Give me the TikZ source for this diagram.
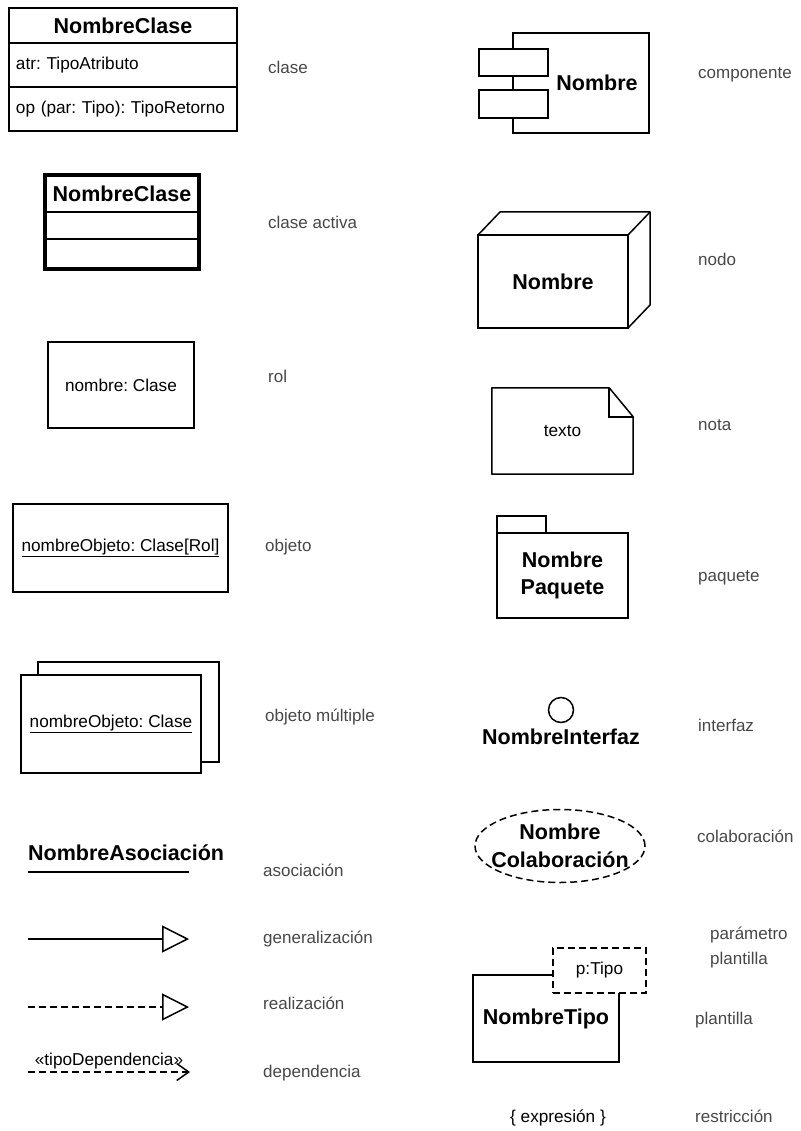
\documentclass[tikz,border=0pt]{standalone}
\usepackage{fontspec}
\setmainfont{Liberation Sans}
\usepackage{xcolor}
\usepackage{tikz}
\usetikzlibrary{positioning}
\usetikzlibrary{shapes.geometric}
\usetikzlibrary{arrows.meta}
\tikzset{c-box/.style={rectangle, draw=black, line width=1.5pt, outer sep=0pt, inner sep=0pt, fill=white, text centered},
c-dash/.style={c-box, dash pattern=on 7pt off 4pt},
c-name/.style={font=\fontsize{21.5}{27.5}\selectfont\bfseries},
c-text/.style={font=\fontsize{17.2}{21}\selectfont},
c-label/.style={anchor=west, inner sep=0pt, text=c_label, text height=12pt, text depth=4pt, font=\fontsize{17}{25}\selectfont},
arrow-gen/.style={line width=1.5pt, -{Triangle[open, length=27pt, width=27pt]}},
arrow-real/.style={arrow-gen, dash pattern=on 7pt off 4pt},
arrow-dep/.style={line width=1.5pt, dash pattern=on 7pt off 4pt, -{Straight Barb[length=12pt, width=17pt]}}}
\definecolor{c_label}{rgb}{0.28, 0.28, 0.28}
\frenchspacing
\begin{document}
\begin{tikzpicture}[x=1pt, y=-1pt]
\useasboundingbox (0,0) rectangle (800,1131);

\node (cl-nom) [c-box, c-name, minimum width=228pt, minimum height=35pt] at (123,25.5) {NombreClase};
\node (cl-atr) [c-box, c-text, below=0pt of cl-nom, minimum height=44pt, inner xsep=7pt, text width=214pt, align=left] {atr: TipoAtributo};
\node (cl-op) [c-box, c-text, below=0pt of cl-atr, minimum height=44pt, inner xsep=7pt, text width=214pt, align=left] {op (par: Tipo): TipoRetorno};
\node (cl-lab) [c-label] at (268,70) {clase};

\node (ca-nom) [c-box, c-name, minimum width=154pt, minimum height=37pt] at (122,193.5) {NombreClase};
\node (ca-atr) [c-box, below=0pt of ca-nom, minimum width=154pt, minimum height=27pt] {};
\node (ca-op) [c-box, below=0pt of ca-atr, minimum width=154pt, minimum height=30pt] {};
\draw [line width=4pt] (ca-nom.north west) rectangle (ca-op.south east);
\node (ca-lab) [c-label] at (268,225) {clase activa};

\node (rol) [c-box, c-text, minimum width=146pt, minimum height=86pt] at (121,385) {nombre: Clase};
\node (rol-lab) [c-label] at (268,378) {rol};

\node (obj) [c-box, c-text, minimum width=215pt, minimum height=88pt] at (120.5,548) {\underline{nombreObjeto: Clase[Rol]}};
\node (obj-lab) [c-label] at (265,547) {objeto};

\node (om-back) [c-box, minimum width=181pt, minimum height=100pt] at (128.5,712) {};
\node (om) [c-box, c-text, minimum width=180pt, minimum height=98pt] at (111,724) {\underline{nombreObjeto: Clase}};
\node (om-lab) [c-label] at (265,717) {objeto múltiple};

\node (asoc) [c-name, anchor=west, inner sep=0pt] at (28,853) {NombreAsociación};
\coordinate (asoc-a) at (28,872);
\coordinate (asoc-b) at (189,872);
\draw [line width=1.5pt] (asoc-a) -- (asoc-b);
\node (asoc-lab) [c-label] at (263,872) {asociación};

\coordinate (gen-a) at (28,939);
\coordinate (gen-b) at (189,939);
\draw [arrow-gen] (gen-a) -- (gen-b);
\node (gen-lab) [c-label] at (263,939) {generalización};

\coordinate (real-a) at (28,1007);
\coordinate (real-b) at (189,1007);
\draw [arrow-real] (real-a) -- (real-b);
\node (real-lab) [c-label] at (263,1005) {realización};

\coordinate (dep-a) at (28,1072);
\coordinate (dep-b) at (190,1072);
\draw [arrow-dep] (dep-a) -- node (dep-nom) [c-text, above, inner sep=1pt, yshift=1pt] {«tipoDependencia»} (dep-b);
\node (dep-lab) [c-label] at (263,1073) {dependencia};

\node (comp) [c-box, minimum width=136pt, minimum height=100pt] at (581,83) {};
\node (comp-nom) [c-name] at (597,83) {Nombre};
\node (comp-p1) [c-box, minimum width=69pt, minimum height=27pt] at (513.5,62.5) {};
\node (comp-p2) [c-box, minimum width=69pt, minimum height=28pt] at (513.5,104) {};
\node (comp-lab) [c-label] at (698,75) {componente};

\node (nodo) [c-box, c-name, minimum width=150pt, minimum height=93pt] at (553,281.5) {Nombre};
\draw [line width=1.5pt, line join=round] (nodo.north west) -- ++(22,-23) -- ++(150,0) -- ++(0,93) -- (nodo.south east);
\draw [line width=1.5pt] (nodo.north east) -- ++(22,-23);
\node (nodo-lab) [c-label] at (698,262) {nodo};

\node (nota) [c-text, minimum width=141pt, minimum height=86pt, inner sep=0pt] at (562.5,431) {texto};
\draw [line width=1.5pt, line join=round] (nota.north west) -- ([xshift=-24pt]nota.north east) -- ([yshift=-29pt]nota.north east) -- (nota.south east) -- (nota.south west) -- cycle;
\draw [line width=1.5pt] ([xshift=-24pt]nota.north east) -- ([xshift=-24pt, yshift=-29pt]nota.north east) -- ([yshift=-29pt]nota.north east);
\node (nota-lab) [c-label] at (698,426) {nota};

\node (paq) [c-box, c-name, minimum width=131pt, minimum height=85pt, align=center] at (562.5,575.5) {Nombre\\Paquete};
\node (paq-tab) [c-box, minimum width=49pt, minimum height=17pt, anchor=south west] at (paq.north west) {};
\node (paq-lab) [c-label] at (698,577) {paquete};

\node (intf) [circle, draw, line width=1.5pt, minimum size=25pt, inner sep=0pt] at (561,710) {};
\node (intf-nom) [c-name, below=2pt of intf] {NombreInterfaz};
\node (intf-lab) [c-label] at (698,727) {interfaz};

\node (colab) [c-dash, ellipse, minimum width=170pt, minimum height=73pt] at (560,846) {};
\node (colab-nom) [c-name, align=center] at (colab.center) {Nombre\\Colaboración};
\node (colab-lab) [c-label] at (697,838) {colaboración};

\node (plant) [c-box, c-name, minimum width=146pt, minimum height=87pt] at (546,1018.5) {NombreTipo};
\node (plant-par) [c-dash, c-text, minimum width=93pt, minimum height=45pt] at (599.5,970.5) {p:Tipo};
\node (par-lab) [c-label, align=left, text height=37pt] at (710,947.5) {parámetro\\plantilla};
\node (plant-lab) [c-label] at (695,1020) {plantilla};

\node (restr) [c-text] at (558,1118) {\{ expresión \}};
\node (restr-lab) [c-label] at (695,1118) {restricción};
\end{tikzpicture}
\end{document}
